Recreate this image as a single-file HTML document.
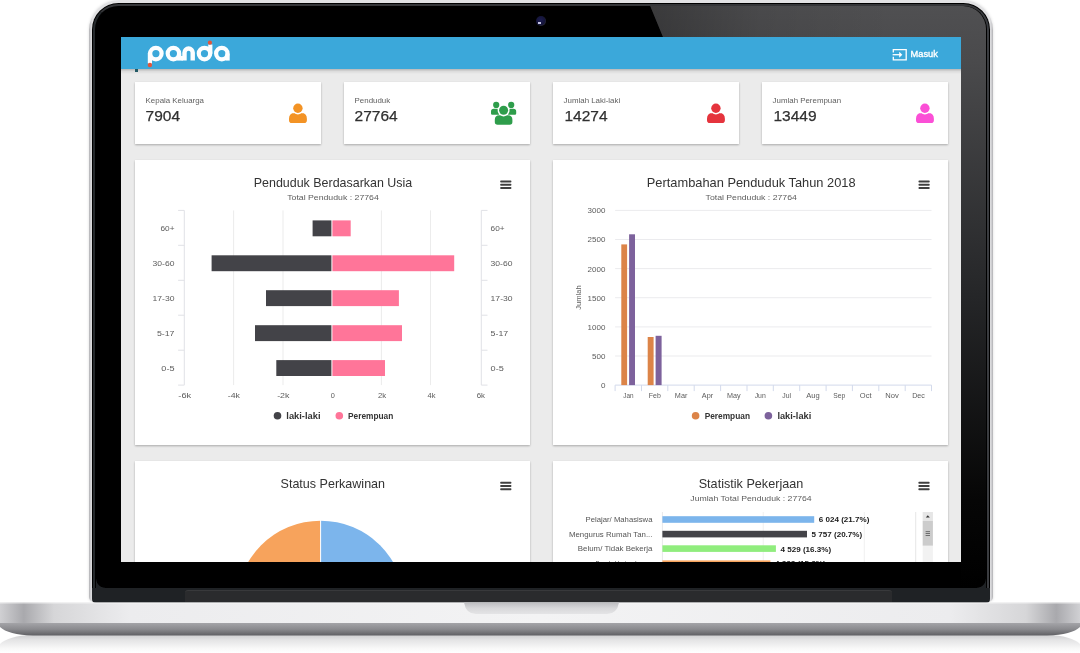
<!DOCTYPE html>
<html>
<head>
<meta charset="utf-8">
<style>
html,body{margin:0;padding:0;}
body{width:1080px;height:653px;overflow:hidden;background:#fff;position:relative;font-family:"Liberation Sans",sans-serif;line-height:1;}
.abs{position:absolute;}
#lid{position:absolute;left:89px;top:-0.5px;width:904px;height:602.5px;border-radius:30px 30px 5px 5px;background:linear-gradient(90deg,#b0b0b3 0,#cfcfd2 1.5px,#e2e2e4 3.3px,#e2e2e4 900.7px,#cfcfd2 902.5px,#b0b0b3 904px);box-shadow:0 0 3px rgba(0,0,0,.14);}
#bezel{position:absolute;left:92.3px;top:2.5px;width:897.5px;height:585.5px;border-radius:26.5px 26.5px 0 0;background:#000;overflow:hidden;}
.cbl{position:absolute;left:3.4px;bottom:0;width:9px;height:9px;background:radial-gradient(circle at 100% 0,#000 8.3px,#1f2225 9.1px);}
.cbr{position:absolute;right:3.4px;bottom:0;width:9px;height:9px;background:radial-gradient(circle at 0 0,#000 8.3px,#1f2225 9.1px);}
#ring{position:absolute;left:1.1px;top:1.2px;right:1.1px;bottom:-4px;border:2.3px solid #2c2e31;border-left-color:#25292c;border-right-color:#3a3c40;border-top-color:#353639;border-radius:25.3px 25.3px 0 0;box-sizing:border-box;}
#hinge{position:absolute;left:92.3px;top:588px;width:897.5px;height:15px;background:#1f2225;border-radius:0 0 4px 4px;}
#hingeMid{position:absolute;left:185px;top:590px;width:707px;height:12px;background:#2a2b2d;border-radius:3px 3px 0 0;border-top:1px solid #38393b;box-sizing:border-box;}
#screen{position:absolute;left:121px;top:37px;width:840px;height:524.7px;background:#ebebeb;overflow:hidden;}
#screen svg{will-change:transform;}
#nav{position:absolute;left:0;top:0;width:840px;height:32px;background:#3ba8da;box-shadow:0 1px 3px rgba(0,0,0,.3);}
.card{position:absolute;background:#fff;box-shadow:0 1px 2px rgba(0,0,0,.28);}
.lbl{position:absolute;font-size:9px;color:#666;white-space:nowrap;line-height:10px;}
.num{position:absolute;font-size:16.5px;color:#333;white-space:nowrap;line-height:18px;}
.ct{position:absolute;white-space:nowrap;color:#333;font-size:13.6px;line-height:16px;transform:translateX(-50%);}
.cs{position:absolute;white-space:nowrap;color:#666;font-size:8.7px;line-height:10px;transform:translateX(-50%);}
.ax{position:absolute;white-space:nowrap;color:#666;font-size:8px;line-height:10px;}
.axc{transform:translateX(-50%);}
.axr{transform:translateX(-100%);}
.lg{position:absolute;white-space:nowrap;color:#333;font-size:8.7px;font-weight:bold;line-height:10px;}
.dl{position:absolute;white-space:nowrap;color:#111;font-size:8px;font-weight:bold;line-height:10px;}
</style>
</head>
<body>
<!-- laptop lid -->
<div id="lid"></div>
<div id="bezel">
  <svg class="abs" style="left:0.7px;top:0.5px" width="897" height="586">
    <defs>
      <linearGradient id="gl" x1="0" y1="0" x2="0" y2="1">
        <stop offset="0" stop-color="#505052"/>
        <stop offset="0.1" stop-color="#4a4a4c"/>
        <stop offset="0.5" stop-color="#252628"/>
        <stop offset="0.85" stop-color="#060606"/>
        <stop offset="1" stop-color="#000"/>
      </linearGradient>
      <linearGradient id="gx" x1="0" y1="0" x2="1" y2="0">
        <stop offset="0" stop-color="#000" stop-opacity=".28"/>
        <stop offset="0.45" stop-color="#000" stop-opacity=".08"/>
        <stop offset="1" stop-color="#000" stop-opacity="0"/>
      </linearGradient>
      <clipPath id="bz"><rect x="2.8" y="3" width="890.2" height="600" rx="23" ry="23"/></clipPath>
    </defs>
    <g clip-path="url(#bz)">
    <polygon points="556,0 895,0 895,585 868,585 868,34 570,34" fill="url(#gl)"/>
    <polygon points="556,0 800,0 800,34 570,34" fill="url(#gx)"/>
    </g>
  </svg>
  <div id="ring"></div><div class="cbl"></div><div class="cbr"></div>
  <div class="abs" style="left:443.6px;top:13.8px;width:10.4px;height:10.2px;border-radius:50%;background:radial-gradient(circle at 45% 45%,#1c1c50 0,#15153a 55%,#2c2c34 75%,#484848 100%);"></div>
  <div class="abs" style="left:445.8px;top:19.4px;width:2.8px;height:1.8px;background:#c4c4e2;"></div>
</div>
<div id="hinge"></div>
<div id="hingeMid"></div>
<!-- base -->
<svg class="abs" style="left:0;top:598px" width="1080" height="55">
  <defs>
    <linearGradient id="bt" x1="0" y1="0" x2="1" y2="0">
      <stop offset="0" stop-color="#d0d0d3"/>
      <stop offset="0.022" stop-color="#a9a9ad"/>
      <stop offset="0.05" stop-color="#d6d6d8"/>
      <stop offset="0.12" stop-color="#ececee"/>
      <stop offset="0.5" stop-color="#f3f3f4"/>
      <stop offset="0.88" stop-color="#ececee"/>
      <stop offset="0.95" stop-color="#d6d6d8"/>
      <stop offset="0.978" stop-color="#a9a9ad"/>
      <stop offset="1" stop-color="#d0d0d3"/>
    </linearGradient>
    <linearGradient id="bb" x1="0" y1="0" x2="0" y2="1">
      <stop offset="0" stop-color="#a4a4a8"/>
      <stop offset="0.5" stop-color="#8a8a8e"/>
      <stop offset="1" stop-color="#5f5f63"/>
    </linearGradient>
    <linearGradient id="nt" x1="0" y1="0" x2="0" y2="1">
      <stop offset="0" stop-color="#bdbdc1"/>
      <stop offset="0.5" stop-color="#d8d8da"/>
      <stop offset="1" stop-color="#e4e4e6"/>
    </linearGradient>
    <linearGradient id="rf" x1="0" y1="0" x2="0" y2="1">
      <stop offset="0" stop-color="#cdcdcf"/>
      <stop offset="0.3" stop-color="#e4e4e5"/>
      <stop offset="0.75" stop-color="#f8f8f8"/>
      <stop offset="1" stop-color="#ffffff"/>
    </linearGradient>
  </defs>
  <!-- reflection under -->
  <path d="M33,36.5 H1047 Q1072,38 1080,46 V55 H0 V46 Q8,38 33,36.5 Z" fill="url(#rf)"/>
  <!-- lower dark edge -->
  <path d="M0,25 H1080 V29 Q1072,36.6 1047,37.6 H33 Q8,36.6 0,29 Z" fill="url(#bb)"/>
  <!-- top plate -->
  <rect x="0" y="4.5" width="1080" height="20.5" fill="url(#bt)"/>
  <rect x="0" y="4.5" width="1080" height="1" fill="#fafafa" opacity=".7"/>
  <!-- notch -->
  <path d="M464,4.5 H619 Q617,16 607,16 H476 Q466,16 464,4.5 Z" fill="url(#nt)"/>
</svg>
<!-- screen -->
<div id="screen">
<div class="card" style="left:14px;top:45px;width:186px;height:62px"></div>
<div class="card" style="left:223px;top:45px;width:186px;height:62px"></div>
<div class="card" style="left:432px;top:45px;width:186px;height:62px"></div>
<div class="card" style="left:641px;top:45px;width:186px;height:62px"></div>
<div class="card" style="left:14px;top:123px;width:395px;height:284.5px"></div>
<div class="card" style="left:432px;top:123px;width:395.3px;height:284.5px"></div>
<div class="card" style="left:14px;top:424px;width:395px;height:200px"></div>
<div class="card" style="left:432px;top:424px;width:395.3px;height:200px"></div>
<svg class="abs" style="left:0;top:0" width="840" height="525" font-family="Liberation Sans, sans-serif"><g transform="translate(-121,-37)">
<text x="145.6" y="102.8" font-size="7.9" fill="#606060" text-anchor="start" font-weight="normal">Kepala Keluarga</text>
<text x="145.6" y="121.1" font-size="15.5" fill="#303030" text-anchor="start" font-weight="normal" stroke="#303030" stroke-width="0.25">7904</text>
<text x="354.6" y="102.8" font-size="7.9" fill="#606060" text-anchor="start" font-weight="normal">Penduduk</text>
<text x="354.6" y="121.1" font-size="15.5" fill="#303030" text-anchor="start" font-weight="normal" stroke="#303030" stroke-width="0.25">27764</text>
<text x="563.6" y="102.8" font-size="7.9" fill="#606060" text-anchor="start" font-weight="normal">Jumlah Laki-laki</text>
<text x="564.5" y="121.1" font-size="15.5" fill="#303030" text-anchor="start" font-weight="normal" stroke="#303030" stroke-width="0.25">14274</text>
<text x="772.6" y="102.8" font-size="7.9" fill="#606060" text-anchor="start" font-weight="normal">Jumlah Perempuan</text>
<text x="773.5" y="121.1" font-size="15.5" fill="#303030" text-anchor="start" font-weight="normal" stroke="#303030" stroke-width="0.25">13449</text>
<circle cx="297.9" cy="108.3" r="4.7" fill="#f39325"/>
<path d="M289.0,120.3 V118.69999999999999 Q289.0,113.1 294.6,113.1 H293.9 Q297.9,115.69999999999999 301.9,113.1 H301.29999999999995 Q306.9,113.1 306.9,118.69999999999999 V120.3 Q306.9,123.1 304.09999999999997,123.1 H291.8 Q289.0,123.1 289.0,120.3 Z" fill="#f39325"/>
<circle cx="715.9" cy="108.3" r="4.7" fill="#e5343d"/>
<path d="M707.0,120.3 V118.69999999999999 Q707.0,113.1 712.6,113.1 H711.9 Q715.9,115.69999999999999 719.9,113.1 H719.3 Q724.9,113.1 724.9,118.69999999999999 V120.3 Q724.9,123.1 722.1,123.1 H709.8 Q707.0,123.1 707.0,120.3 Z" fill="#e5343d"/>
<circle cx="924.9" cy="108.3" r="4.7" fill="#fb4fd6"/>
<path d="M916.0,120.3 V118.69999999999999 Q916.0,113.1 921.6,113.1 H920.9 Q924.9,115.69999999999999 928.9,113.1 H928.3 Q933.9,113.1 933.9,118.69999999999999 V120.3 Q933.9,123.1 931.1,123.1 H918.8 Q916.0,123.1 916.0,120.3 Z" fill="#fb4fd6"/>
<circle cx="496.2" cy="104.9" r="3.1" fill="#2e9d4b"/><circle cx="511.2" cy="104.9" r="3.1" fill="#2e9d4b"/>
<path d="M491,113.5 V111.6 Q491,108.8 493.8,108.8 H497.6 Q497.2,112.6 499.3,114.8 H492.3 Q491,114.8 491,113.5 Z" fill="#2e9d4b"/>
<path d="M516.2,113.5 V111.6 Q516.2,108.8 513.4,108.8 H509.6 Q510,112.6 507.9,114.8 H514.9 Q516.2,114.8 516.2,113.5 Z" fill="#2e9d4b"/>
<circle cx="503.6" cy="110.2" r="4.5" fill="#2e9d4b"/>
<path d="M494.8,122 V119.8 Q494.8,115.3 499.3,115.3 H500 Q503.6,117.5 507.2,115.3 H507.9 Q512.4,115.3 512.4,119.8 V122 Q512.4,124.8 509.6,124.8 H497.6 Q494.8,124.8 494.8,122 Z" fill="#2e9d4b"/>
<rect x="500.2" y="180.50" width="11.2" height="2" rx="0.7" fill="#404040"/>
<rect x="500.2" y="183.78" width="11.2" height="2" rx="0.7" fill="#404040"/>
<rect x="500.2" y="187.06" width="11.2" height="2" rx="0.7" fill="#404040"/>
<rect x="918.5" y="180.40" width="11.2" height="2" rx="0.7" fill="#404040"/>
<rect x="918.5" y="183.68" width="11.2" height="2" rx="0.7" fill="#404040"/>
<rect x="918.5" y="186.96" width="11.2" height="2" rx="0.7" fill="#404040"/>
<rect x="500.2" y="481.70" width="11.2" height="2" rx="0.7" fill="#404040"/>
<rect x="500.2" y="484.98" width="11.2" height="2" rx="0.7" fill="#404040"/>
<rect x="500.2" y="488.26" width="11.2" height="2" rx="0.7" fill="#404040"/>
<rect x="918.4" y="481.70" width="11.2" height="2" rx="0.7" fill="#404040"/>
<rect x="918.4" y="484.98" width="11.2" height="2" rx="0.7" fill="#404040"/>
<rect x="918.4" y="488.26" width="11.2" height="2" rx="0.7" fill="#404040"/>
<text x="333" y="186.7" font-size="12.7" fill="#333" text-anchor="middle" font-weight="normal" textLength="158.5" lengthAdjust="spacingAndGlyphs">Penduduk Berdasarkan Usia</text>
<text x="333" y="200" font-size="8.0" fill="#5c5c5c" text-anchor="middle" font-weight="normal" textLength="91.6" lengthAdjust="spacingAndGlyphs">Total Penduduk : 27764</text>
<rect x="233.1" y="210.4" width="1" height="174.7" fill="#ececec"/>
<rect x="282.5" y="210.4" width="1" height="174.7" fill="#ececec"/>
<rect x="380.9" y="210.4" width="1" height="174.7" fill="#ececec"/>
<rect x="430.0" y="210.4" width="1" height="174.7" fill="#ececec"/>
<rect x="183.8" y="210.4" width="1" height="174.7" fill="#e0e1e6"/>
<rect x="480.8" y="210.4" width="1" height="174.7" fill="#e0e1e6"/>
<rect x="178.1" y="209.9" width="6.2" height="1" fill="#e0e1e6"/>
<rect x="481.3" y="209.9" width="6.2" height="1" fill="#e0e1e6"/>
<rect x="178.1" y="244.8" width="6.2" height="1" fill="#e0e1e6"/>
<rect x="481.3" y="244.8" width="6.2" height="1" fill="#e0e1e6"/>
<rect x="178.1" y="279.8" width="6.2" height="1" fill="#e0e1e6"/>
<rect x="481.3" y="279.8" width="6.2" height="1" fill="#e0e1e6"/>
<rect x="178.1" y="314.7" width="6.2" height="1" fill="#e0e1e6"/>
<rect x="481.3" y="314.7" width="6.2" height="1" fill="#e0e1e6"/>
<rect x="178.1" y="349.7" width="6.2" height="1" fill="#e0e1e6"/>
<rect x="481.3" y="349.7" width="6.2" height="1" fill="#e0e1e6"/>
<rect x="178.1" y="384.6" width="6.2" height="1" fill="#e0e1e6"/>
<rect x="481.3" y="384.6" width="6.2" height="1" fill="#e0e1e6"/>
<rect x="312.6" y="220.4" width="18.8" height="15.9" fill="#434348"/>
<rect x="332.4" y="220.4" width="18.3" height="15.9" fill="#ff7599"/>
<text x="174.5" y="230.9" font-size="7.3" fill="#5c5c5c" text-anchor="end" font-weight="normal" textLength="14.0" lengthAdjust="spacingAndGlyphs">60+</text>
<text x="490.6" y="230.9" font-size="7.3" fill="#5c5c5c" text-anchor="start" font-weight="normal" textLength="14.0" lengthAdjust="spacingAndGlyphs">60+</text>
<rect x="211.6" y="255.3" width="119.8" height="15.9" fill="#434348"/>
<rect x="332.4" y="255.3" width="121.8" height="15.9" fill="#ff7599"/>
<text x="174.5" y="265.8" font-size="7.3" fill="#5c5c5c" text-anchor="end" font-weight="normal" textLength="21.9" lengthAdjust="spacingAndGlyphs">30-60</text>
<text x="490.6" y="265.8" font-size="7.3" fill="#5c5c5c" text-anchor="start" font-weight="normal" textLength="21.9" lengthAdjust="spacingAndGlyphs">30-60</text>
<rect x="266" y="290.2" width="65.4" height="15.9" fill="#434348"/>
<rect x="332.4" y="290.2" width="66.5" height="15.9" fill="#ff7599"/>
<text x="174.5" y="300.8" font-size="7.3" fill="#5c5c5c" text-anchor="end" font-weight="normal" textLength="22.0" lengthAdjust="spacingAndGlyphs">17-30</text>
<text x="490.6" y="300.8" font-size="7.3" fill="#5c5c5c" text-anchor="start" font-weight="normal" textLength="22.0" lengthAdjust="spacingAndGlyphs">17-30</text>
<rect x="255" y="325.2" width="76.4" height="15.9" fill="#434348"/>
<rect x="332.4" y="325.2" width="69.6" height="15.9" fill="#ff7599"/>
<text x="174.5" y="335.7" font-size="7.3" fill="#5c5c5c" text-anchor="end" font-weight="normal" textLength="17.6" lengthAdjust="spacingAndGlyphs">5-17</text>
<text x="490.6" y="335.7" font-size="7.3" fill="#5c5c5c" text-anchor="start" font-weight="normal" textLength="17.6" lengthAdjust="spacingAndGlyphs">5-17</text>
<rect x="276.3" y="360.1" width="55.1" height="15.9" fill="#434348"/>
<rect x="332.4" y="360.1" width="52.6" height="15.9" fill="#ff7599"/>
<text x="174.5" y="370.6" font-size="7.3" fill="#5c5c5c" text-anchor="end" font-weight="normal" textLength="13.2" lengthAdjust="spacingAndGlyphs">0-5</text>
<text x="490.6" y="370.6" font-size="7.3" fill="#5c5c5c" text-anchor="start" font-weight="normal" textLength="13.2" lengthAdjust="spacingAndGlyphs">0-5</text>
<text x="184.75" y="397.7" font-size="7.3" fill="#5c5c5c" text-anchor="middle" font-weight="normal" textLength="12.8" lengthAdjust="spacingAndGlyphs">-6k</text>
<text x="233.9" y="397.7" font-size="7.3" fill="#5c5c5c" text-anchor="middle" font-weight="normal" textLength="12.2" lengthAdjust="spacingAndGlyphs">-4k</text>
<text x="283.3" y="397.7" font-size="7.3" fill="#5c5c5c" text-anchor="middle" font-weight="normal" textLength="12.3" lengthAdjust="spacingAndGlyphs">-2k</text>
<text x="332.9" y="397.7" font-size="7.3" fill="#5c5c5c" text-anchor="middle" font-weight="normal" textLength="4.1" lengthAdjust="spacingAndGlyphs">0</text>
<text x="382.1" y="397.7" font-size="7.3" fill="#5c5c5c" text-anchor="middle" font-weight="normal" textLength="8.2" lengthAdjust="spacingAndGlyphs">2k</text>
<text x="431.5" y="397.7" font-size="7.3" fill="#5c5c5c" text-anchor="middle" font-weight="normal" textLength="8.0" lengthAdjust="spacingAndGlyphs">4k</text>
<text x="480.8" y="397.7" font-size="7.3" fill="#5c5c5c" text-anchor="middle" font-weight="normal" textLength="8.3" lengthAdjust="spacingAndGlyphs">6k</text>
<circle cx="277.5" cy="415.8" r="3.8" fill="#434348"/>
<text x="286.3" y="418.8" font-size="8.4" fill="#333" text-anchor="start" font-weight="bold" textLength="34.2" lengthAdjust="spacingAndGlyphs">laki-laki</text>
<circle cx="339.3" cy="415.8" r="3.8" fill="#ff7599"/>
<text x="348" y="418.8" font-size="8.4" fill="#333" text-anchor="start" font-weight="bold" textLength="45.3" lengthAdjust="spacingAndGlyphs">Perempuan</text>
<text x="751.2" y="186.7" font-size="12.7" fill="#333" text-anchor="middle" font-weight="normal" textLength="208.9" lengthAdjust="spacingAndGlyphs">Pertambahan Penduduk Tahun 2018</text>
<text x="751.2" y="199.9" font-size="8.0" fill="#5c5c5c" text-anchor="middle" font-weight="normal" textLength="91.3" lengthAdjust="spacingAndGlyphs">Total Penduduk : 27764</text>
<rect x="615.1" y="355.5" width="316.4" height="1" fill="#ebebee"/>
<rect x="615.1" y="326.4" width="316.4" height="1" fill="#ebebee"/>
<rect x="615.1" y="297.2" width="316.4" height="1" fill="#ebebee"/>
<rect x="615.1" y="268.1" width="316.4" height="1" fill="#ebebee"/>
<rect x="615.1" y="239.0" width="316.4" height="1" fill="#ebebee"/>
<rect x="615.1" y="209.9" width="316.4" height="1" fill="#ebebee"/>
<text x="605.4" y="388.0" font-size="7.3" fill="#5c5c5c" text-anchor="end" font-weight="normal" textLength="4.5" lengthAdjust="spacingAndGlyphs">0</text>
<text x="605.4" y="358.9" font-size="7.3" fill="#5c5c5c" text-anchor="end" font-weight="normal" textLength="13.4" lengthAdjust="spacingAndGlyphs">500</text>
<text x="605.4" y="329.8" font-size="7.3" fill="#5c5c5c" text-anchor="end" font-weight="normal" textLength="17.8" lengthAdjust="spacingAndGlyphs">1000</text>
<text x="605.4" y="300.6" font-size="7.3" fill="#5c5c5c" text-anchor="end" font-weight="normal" textLength="17.8" lengthAdjust="spacingAndGlyphs">1500</text>
<text x="605.4" y="271.5" font-size="7.3" fill="#5c5c5c" text-anchor="end" font-weight="normal" textLength="17.8" lengthAdjust="spacingAndGlyphs">2000</text>
<text x="605.4" y="242.4" font-size="7.3" fill="#5c5c5c" text-anchor="end" font-weight="normal" textLength="17.8" lengthAdjust="spacingAndGlyphs">2500</text>
<text x="605.4" y="213.3" font-size="7.3" fill="#5c5c5c" text-anchor="end" font-weight="normal" textLength="17.8" lengthAdjust="spacingAndGlyphs">3000</text>
<rect x="615.1" y="384.6" width="316.4" height="1" fill="#d3daeb"/>
<rect x="614.6" y="385.1" width="1" height="6" fill="#d3daeb"/>
<rect x="641.0" y="385.1" width="1" height="6" fill="#d3daeb"/>
<rect x="667.3" y="385.1" width="1" height="6" fill="#d3daeb"/>
<rect x="693.7" y="385.1" width="1" height="6" fill="#d3daeb"/>
<rect x="720.1" y="385.1" width="1" height="6" fill="#d3daeb"/>
<rect x="746.5" y="385.1" width="1" height="6" fill="#d3daeb"/>
<rect x="772.8" y="385.1" width="1" height="6" fill="#d3daeb"/>
<rect x="799.2" y="385.1" width="1" height="6" fill="#d3daeb"/>
<rect x="825.6" y="385.1" width="1" height="6" fill="#d3daeb"/>
<rect x="851.9" y="385.1" width="1" height="6" fill="#d3daeb"/>
<rect x="878.3" y="385.1" width="1" height="6" fill="#d3daeb"/>
<rect x="904.7" y="385.1" width="1" height="6" fill="#d3daeb"/>
<rect x="931.0" y="385.1" width="1" height="6" fill="#d3daeb"/>
<text x="628.4" y="397.5" font-size="7.3" fill="#5c5c5c" text-anchor="middle" font-weight="normal" textLength="10.3" lengthAdjust="spacingAndGlyphs">Jan</text>
<text x="654.8" y="397.5" font-size="7.3" fill="#5c5c5c" text-anchor="middle" font-weight="normal" textLength="12" lengthAdjust="spacingAndGlyphs">Feb</text>
<text x="681.1" y="397.5" font-size="7.3" fill="#5c5c5c" text-anchor="middle" font-weight="normal" textLength="12.5" lengthAdjust="spacingAndGlyphs">Mar</text>
<text x="707.5" y="397.5" font-size="7.3" fill="#5c5c5c" text-anchor="middle" font-weight="normal" textLength="11.3" lengthAdjust="spacingAndGlyphs">Apr</text>
<text x="733.9" y="397.5" font-size="7.3" fill="#5c5c5c" text-anchor="middle" font-weight="normal" textLength="13.6" lengthAdjust="spacingAndGlyphs">May</text>
<text x="760.2" y="397.5" font-size="7.3" fill="#5c5c5c" text-anchor="middle" font-weight="normal" textLength="11.1" lengthAdjust="spacingAndGlyphs">Jun</text>
<text x="786.6" y="397.5" font-size="7.3" fill="#5c5c5c" text-anchor="middle" font-weight="normal" textLength="8.7" lengthAdjust="spacingAndGlyphs">Jul</text>
<text x="813.0" y="397.5" font-size="7.3" fill="#5c5c5c" text-anchor="middle" font-weight="normal" textLength="13.5" lengthAdjust="spacingAndGlyphs">Aug</text>
<text x="839.3" y="397.5" font-size="7.3" fill="#5c5c5c" text-anchor="middle" font-weight="normal" textLength="12" lengthAdjust="spacingAndGlyphs">Sep</text>
<text x="865.7" y="397.5" font-size="7.3" fill="#5c5c5c" text-anchor="middle" font-weight="normal" textLength="11.7" lengthAdjust="spacingAndGlyphs">Oct</text>
<text x="892.1" y="397.5" font-size="7.3" fill="#5c5c5c" text-anchor="middle" font-weight="normal" textLength="13.5" lengthAdjust="spacingAndGlyphs">Nov</text>
<text x="918.5" y="397.5" font-size="7.3" fill="#5c5c5c" text-anchor="middle" font-weight="normal" textLength="12.6" lengthAdjust="spacingAndGlyphs">Dec</text>
<rect x="621.3" y="244.4" width="5.8" height="140.7" fill="#dc8448"/>
<rect x="629.1" y="234.3" width="5.9" height="150.8" fill="#7d629c"/>
<rect x="647.7" y="337" width="5.9" height="48.1" fill="#dc8448"/>
<rect x="655.6" y="335.8" width="6.0" height="49.3" fill="#7d629c"/>
<text transform="translate(580.5,297.5) rotate(-90)" font-size="7.6" fill="#606060" text-anchor="middle">Jumlah</text>
<circle cx="695.6" cy="415.8" r="3.8" fill="#dc8448"/>
<text x="704.7" y="418.8" font-size="8.4" fill="#333" text-anchor="start" font-weight="bold" textLength="45.3" lengthAdjust="spacingAndGlyphs">Perempuan</text>
<circle cx="768.4" cy="415.8" r="3.8" fill="#7d629c"/>
<text x="777.4" y="418.8" font-size="8.4" fill="#333" text-anchor="start" font-weight="bold" textLength="33.9" lengthAdjust="spacingAndGlyphs">laki-laki</text>
<text x="332.8" y="488" font-size="12.9" fill="#333" text-anchor="middle" font-weight="normal" textLength="104.5" lengthAdjust="spacingAndGlyphs">Status Perkawinan</text>
<path d="M320.6,604.8 V520.7 A84.1,84.1 0 0 0 236.5,604.8 Z" fill="#f7a35c"/>
<path d="M320.6,604.8 V520.7 A84.1,84.1 0 0 1 404.7,604.8 Z" fill="#7cb5ec"/>
<rect x="320.1" y="520" width="1" height="50" fill="#fff"/>
<text x="751" y="488" font-size="12.9" fill="#333" text-anchor="middle" font-weight="normal" textLength="104.6" lengthAdjust="spacingAndGlyphs">Statistik Pekerjaan</text>
<text x="751" y="501.1" font-size="8.0" fill="#5c5c5c" text-anchor="middle" font-weight="normal" textLength="121.4" lengthAdjust="spacingAndGlyphs">Jumlah Total Penduduk : 27764</text>
<rect x="762.7" y="512" width="1" height="60" fill="#f0f0f0"/>
<rect x="863.8" y="512" width="1" height="60" fill="#f0f0f0"/>
<rect x="915.2" y="512" width="1" height="60" fill="#e6e6e6"/>
<rect x="661.9" y="512" width="1" height="60" fill="#e8e8ea"/>
<rect x="662.4" y="516.2" width="151.8" height="6.6" fill="#7cb5ec"/>
<text x="652.5" y="522.1" font-size="7.3" fill="#555" text-anchor="end" font-weight="normal" textLength="66.9" lengthAdjust="spacingAndGlyphs">Pelajar/ Mahasiswa</text>
<text x="818.8000000000001" y="522.4" font-size="7.4" fill="#1a1a1a" text-anchor="start" font-weight="bold" textLength="50.6" lengthAdjust="spacingAndGlyphs">6 024 (21.7%)</text>
<rect x="662.4" y="530.8" width="144.6" height="6.6" fill="#434348"/>
<text x="652.5" y="536.6" font-size="7.3" fill="#555" text-anchor="end" font-weight="normal" textLength="83.6" lengthAdjust="spacingAndGlyphs">Mengurus Rumah Tan...</text>
<text x="811.6" y="536.9" font-size="7.4" fill="#1a1a1a" text-anchor="start" font-weight="bold" textLength="50.6" lengthAdjust="spacingAndGlyphs">5 757 (20.7%)</text>
<rect x="662.4" y="545.3" width="113.5" height="6.6" fill="#90ed7d"/>
<text x="652.5" y="551.2" font-size="7.3" fill="#555" text-anchor="end" font-weight="normal" textLength="74.7" lengthAdjust="spacingAndGlyphs">Belum/ Tidak Bekerja</text>
<text x="780.5" y="551.5" font-size="7.4" fill="#1a1a1a" text-anchor="start" font-weight="bold" textLength="50.6" lengthAdjust="spacingAndGlyphs">4 529 (16.3%)</text>
<rect x="662.4" y="560.4" width="108.0" height="6.6" fill="#f7a35c"/>
<text x="652.5" y="565.8" font-size="7.3" fill="#555" text-anchor="end" font-weight="normal" textLength="57" lengthAdjust="spacingAndGlyphs">Buruh Harian Lepas</text>
<text x="775.0" y="566.0" font-size="7.4" fill="#1a1a1a" text-anchor="start" font-weight="bold" textLength="50.6" lengthAdjust="spacingAndGlyphs">4 388 (15.8%)</text>
<rect x="922.7" y="512" width="10.2" height="60" fill="#f2f2f2"/>
<rect x="922.7" y="512" width="10.2" height="9" fill="#e6e6e6"/>
<path d="M925.8,517.6 L927.8,515.2 L929.8,517.6 Z" fill="#333"/>
<rect x="922.7" y="521" width="10.2" height="24.6" fill="#cccccc"/>
<rect x="925.6" y="531.3" width="4.4" height="0.8" fill="#555"/>
<rect x="925.6" y="533.2" width="4.4" height="0.8" fill="#555"/>
<rect x="925.6" y="535.1" width="4.4" height="0.8" fill="#555"/>
</g></svg>
<div class="abs" style="left:0;top:32px;width:840px;height:5px;background:linear-gradient(rgba(0,0,0,.22),rgba(0,0,0,.06) 50%,rgba(0,0,0,0));"></div>
<div class="abs" style="left:0;top:0;width:840px;height:32px;background:#3ba8da;"></div>
<div class="abs" style="left:14.2px;top:31.8px;width:2.6px;height:3px;background:#235a66;"></div>
<svg class="abs" style="left:0;top:0" width="840" height="40" font-family="Liberation Sans, sans-serif"><g transform="translate(-121,-37)">
<g fill="none" stroke="#fdfeff" stroke-width="4.2">
<circle cx="155.9" cy="53.6" r="5.7"/>
<circle cx="173.4" cy="53.6" r="5.7"/>
<circle cx="204.5" cy="53.6" r="5.7"/>
<circle cx="221.8" cy="53.6" r="5.7"/>
<path d="M149.9,53.6 V63" stroke-linecap="round"/>
<path d="M179.2,53.6 V60.6"/>
<path d="M184.5,60.6 V52.6 A4.1,4.1 0 0 1 192.7,52.6 V60.6" stroke-width="4.4"/>
<path d="M210.3,53.6 V44.5"/>
<path d="M227.6,53.6 V60.6"/>
</g>
<rect x="181" y="56" width="2" height="4.6" fill="#fdfeff"/>
<circle cx="149.9" cy="65" r="2.2" fill="#e2553a"/>
<circle cx="209.9" cy="42.7" r="2.1" fill="#e2553a"/>
<!-- masuk icon -->
<g fill="none" stroke="#fff" stroke-width="1.3">
<path d="M893.3,52.6 V49.6 H906.2 V59.8 H893.3 V56.8"/>
<path d="M892.6,54.7 H900.6"/>
</g>
<path d="M899.2,51.7 L902.3,54.7 L899.2,57.7 Z" fill="#fff"/>
<text x="910.6" y="57.3" font-size="9.2" fill="#fff" stroke="#fff" stroke-width="0.35" textLength="27.3" lengthAdjust="spacingAndGlyphs">Masuk</text>
</g></svg>
</div>
</body>
</html>
